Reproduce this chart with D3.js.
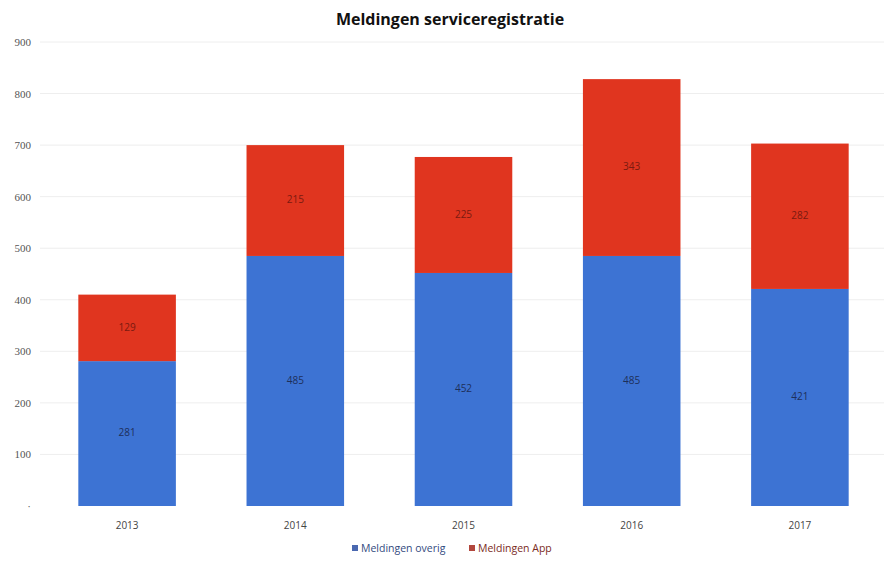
<!DOCTYPE html>
<html><head><meta charset="utf-8">
<script src="https://cdn.jsdelivr.net/npm/d3@7"></script>
<style>body{margin:0;background:#fff}svg{display:block}</style>
</head><body>
<script>
const years = ["2013","2014","2015","2016","2017"];
const overig = [281,485,452,485,421];
const app = [129,215,225,343,282];
const yTicks = [0,100,200,300,400,500,600,700,800,900];
const seriesNames = ["Meldingen overig","Meldingen App"];
const colors = ["#3d73d3","#e0351f"];

const W=887,H=564;
const svg=d3.select("body").append("svg").attr("width",W).attr("height",H);
const x=d3.scaleBand().domain(years).range([43,884]).paddingInner(0.42).paddingOuter(0.21);
const y=d3.scaleLinear().domain([0,900]).range([506,42]);

// gridlines
svg.append("g").selectAll("line").data(yTicks.slice(1)).join("line")
  .attr("x1",40).attr("x2",884).attr("y1",d=>y(d)).attr("y2",d=>y(d))
  .attr("stroke","#eeeeee").attr("stroke-width",1);

// y labels
const yAxis=d3.axisLeft(y).tickValues(yTicks).tickSize(0).tickPadding(0)
  .tickFormat(d=>d===0?"·":d);
const ga=svg.append("g").attr("transform","translate(31,0)").call(yAxis);
ga.select(".domain").remove();
ga.selectAll("text").style("font-family","'Liberation Serif', serif").style("font-size","11px").attr("fill","#555");

const stack=d3.stack().keys([0,1]).value((d,k)=>k===0?d.o:d.a);
const rows=years.map((yr,i)=>({yr,o:overig[i],a:app[i]}));
const layers=stack(rows);

layers.forEach((layer,k)=>{
  svg.append("g").selectAll("rect").data(layer).join("rect")
    .attr("x",d=>x(d.data.yr)).attr("width",x.bandwidth())
    .attr("y",d=>y(d[1])).attr("height",d=>y(d[0])-y(d[1]))
    .attr("fill",colors[k]);
  svg.append("g").selectAll("text").data(layer).join("text")
    .attr("x",d=>x(d.data.yr)+x.bandwidth()/2)
    .attr("y",d=>y((d[0]+d[1])/2))
    .attr("text-anchor","middle").attr("dominant-baseline","middle")
    .attr("font-family","Open Sans, sans-serif").attr("font-size",10)
    .attr("fill",k===0?"#1d2f5a":"#7a1a10")
    .text(d=>k===0?d.data.o:d.data.a);
});

// x labels
const xa=svg.append("g").attr("transform","translate(0,516)").call(d3.axisBottom(x).tickSize(0).tickPadding(6));
xa.select(".domain").remove();
xa.selectAll("text").style("font-family","'Open Sans', sans-serif").style("font-size","10px").attr("fill","#444");

// title
svg.append("text").attr("x",450).attr("y",25).attr("text-anchor","middle")
  .attr("font-family","Open Sans, sans-serif").attr("font-weight","bold").attr("font-size",16)
  .attr("fill","#111").text("Meldingen serviceregistratie");

// legend
const lg=svg.append("g").attr("transform","translate(352,549)");
const lx=[0,117];
seriesNames.forEach((n,i)=>{
  lg.append("rect").attr("x",lx[i]).attr("y",-4).attr("width",6).attr("height",6).attr("fill",i===0?"#4a68b0":"#b2473d");
  lg.append("text").attr("x",lx[i]+9).attr("y",0).attr("dominant-baseline","middle")
    .attr("font-family","Open Sans, sans-serif").attr("font-size",10.5).attr("fill",i===0?"#334a80":"#7a2a22").text(n);
});
</script>
</body></html>
